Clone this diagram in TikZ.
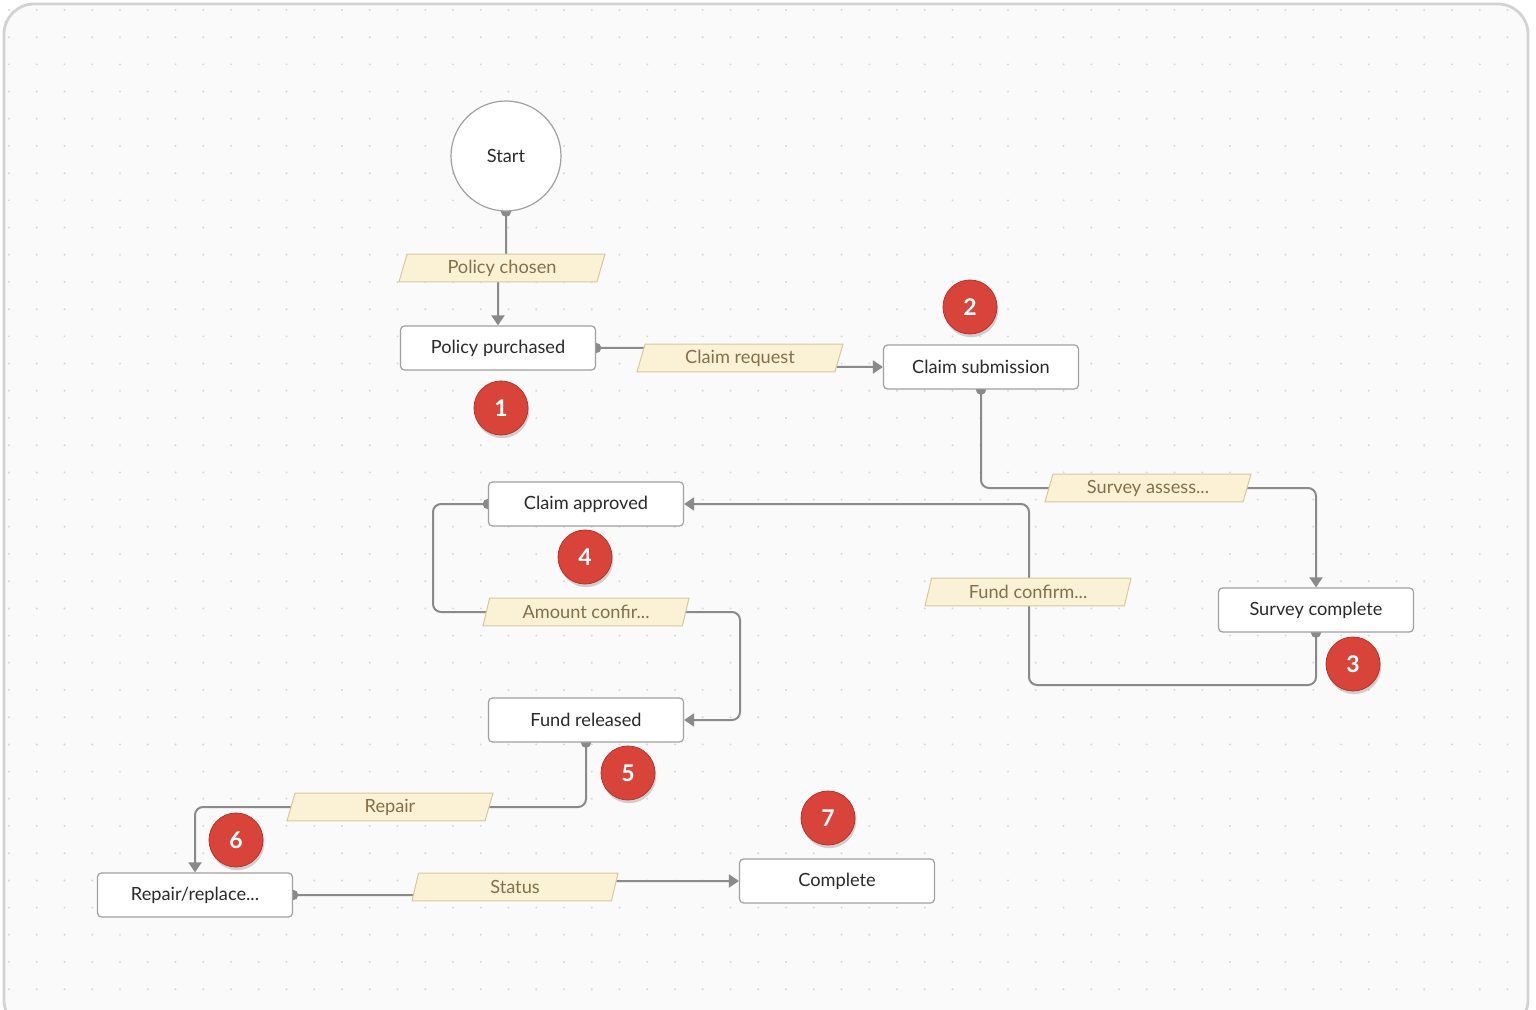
\documentclass[tikz,border=0pt]{standalone}
\usepackage{fontspec}
\setmainfont{Lato}
\usetikzlibrary{arrows.meta,shapes.geometric,shadows}
\definecolor{linegray}{HTML}{8A8A8A}
\definecolor{boxline}{HTML}{A0A0A0}
\definecolor{boxtext}{HTML}{2A2A2A}
\definecolor{parafill}{HTML}{FBF2D6}
\definecolor{paraline}{HTML}{D6C89E}
\definecolor{paratext}{HTML}{82704A}
\definecolor{badgered}{HTML}{D8433A}
\definecolor{badgeedge}{HTML}{B8322B}
\definecolor{canvas}{HTML}{FAFAFA}
\definecolor{canvasedge}{HTML}{D2D2D2}
\definecolor{dotgray}{HTML}{D6D6D6}
\pgfdeclarelayer{bg}
\pgfdeclarelayer{lines}
\pgfsetlayers{bg,lines,main}
\tikzset{
  stepbox/.style={draw=boxline, line width=0.6pt, fill=white, rounded corners=2pt,
    minimum width=97.5pt, minimum height=22pt, inner sep=0pt,
    font=\fontsize{9.1}{10}\selectfont, text=boxtext},
  startnode/.style={circle, draw=boxline, line width=0.6pt, fill=white,
    minimum size=55pt, inner sep=0pt, font=\fontsize{9.1}{10}\selectfont, text=boxtext},
  paranode/.style={trapezium, trapezium left angle=64, trapezium right angle=116,
    trapezium stretches body, draw=paraline, line width=0.5pt, fill=parafill,
    minimum width=103pt, minimum height=13.8pt, inner sep=0pt,
    font=\fontsize{9.1}{10}\selectfont, text=paratext},
  badge/.style={circle, fill=badgered, draw=badgeedge, line width=0.4pt,
    minimum size=27pt, inner sep=0pt, text=white,
    font=\bfseries\fontsize{11.5}{12}\selectfont,
    drop shadow={opacity=0.35, shadow xshift=0.6pt, shadow yshift=-1.6pt}},
  conn/.style={draw=linegray, line width=1pt, rounded corners=4pt,
    -{Triangle[width=6.5pt,length=5pt]}},
  srcdot/.style={fill=linegray},
}
\begin{document}
\begin{tikzpicture}[x=0.5pt,y=-0.5pt]
\useasboundingbox (0,0) rectangle (1536,1010);
\begin{pgfonlayer}{bg}
  \fill[white] (0,0) rectangle (1536,1010);
  \draw[canvasedge, fill=canvas, line width=1.4pt, rounded corners=15pt] (4,4) rectangle (1528,1030);
  \foreach \i in {0,...,54}{
    \foreach \j in {0,...,36}{
      \fill[dotgray] (9+27.75*\i, 10+27.2*\j) circle (0.55pt);
    }
  }
\end{pgfonlayer}

% nodes
\node[startnode] (start) at (506,156) {Start};
\node[stepbox] (pp) at (498,348) {Policy purchased};
\node[stepbox] (cs) at (981,367) {Claim submission};
\node[stepbox] (sc) at (1316,610) {Survey complete};
\node[stepbox] (ca) at (586,504) {Claim approved};
\node[stepbox] (fr) at (586,720) {Fund released};
\node[stepbox] (rr) at (195,895) {Repair/replace...};
\node[stepbox] (co) at (837,881) {Complete};

\node[paranode] (lpc) at (502,268) {Policy chosen};
\node[paranode] (lcr) at (740,358) {Claim request};
\node[paranode] (lsa) at (1148,488) {Survey assess...};
\node[paranode] (lfc) at (1028,592) {Fund confirm...};
\node[paranode] (lac) at (586,612) {Amount confir...};
\node[paranode] (lre) at (390,807) {Repair};
\node[paranode] (lst) at (515,887) {Status};

\node[badge] (b1) at (501,408) {1};
\node[badge] (b2) at (970,307) {2};
\node[badge] (b3) at (1353,664) {3};
\node[badge] (b4) at (585,557) {4};
\node[badge] (b5) at (628,773) {5};
\node[badge] (b6) at (236,840) {6};
\node[badge] (b7) at (828,818) {7};

% connectors
\begin{pgfonlayer}{lines}
  \draw[conn] (start.south) -- (506,268) -- (498,268) -- (pp.north);
  \draw[conn] (pp.east) -- (740,348) -- (740,367) -- (cs.west);
  \draw[conn] (cs.south) |- (1148,488) -| (sc.north);
  \draw[conn] (sc.south) -- (1316,685) -- (1029,685) -- (1029,504) -- (ca.east);
  \draw[conn] (ca.west) -- (433,504) -- (433,612) -- (740,612) -- (740,720) -- (fr.east);
  \draw[conn] (fr.south) |- (390,807) -| (rr.north);
  \draw[conn] (rr.east) -- (515,895) -- (515,881) -- (co.west);
  \fill[srcdot] (start.south) circle (2.6pt);
  \fill[srcdot] (pp.east) circle (2.6pt);
  \fill[srcdot] (cs.south) circle (2.6pt);
  \fill[srcdot] (sc.south) circle (2.6pt);
  \fill[srcdot] (ca.west) circle (2.6pt);
  \fill[srcdot] (fr.south) circle (2.6pt);
  \fill[srcdot] (rr.east) circle (2.6pt);
\end{pgfonlayer}
\end{tikzpicture}
\end{document}
